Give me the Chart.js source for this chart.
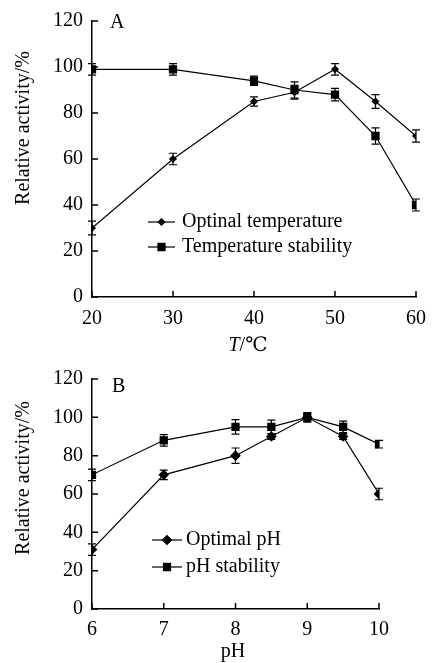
<!DOCTYPE html>
<html>
<head>
<meta charset="utf-8">
<script src="https://cdn.jsdelivr.net/npm/chart.js@4.4.0/dist/chart.umd.min.js"></script>
<style>
  body { margin: 0; background: #fff; }
  .panel { position: absolute; left: 0; width: 437px; }
  #panelA { top: 0; height: 358px; }
  #panelB { top: 358px; height: 305px; }
</style>
</head>
<body>
<div class="panel" id="panelA"><canvas id="chartA"></canvas></div>
<div class="panel" id="panelB"><canvas id="chartB"></canvas></div>
<script>
// panel A: temperature
const temperatures = [20, 30, 40, 45, 50, 55, 60];
const optimalTemp = [30, 60, 85, 89, 99, 85, 70];
const optimalTempErr = [3, 2.5, 2, 3, 2.5, 3, 2.7];
const tempStability = [99, 99, 94, 90, 88, 70, 40];
const tempStabilityErr = [2.5, 2.5, 2, 3.5, 2.7, 3.5, 2.6];

// panel B: pH
const pHValues = [6, 7, 8, 8.5, 9, 9.5, 10];
const optimalPH = [31, 70, 80, 90, 100, 90, 60];
const optimalPHErr = [3, 2.5, 4, 1.5, 2, 1.5, 3];
const pHStability = [70, 88, 95, 95, 100, 95, 86];
const pHStabilityErr = [3, 3, 3.8, 3.5, 2.5, 3, 2];

const FONT = "'Liberation Serif', 'DejaVu Serif', serif";
const FONT_SIZE = 20;

function toPoints(xs, ys) {
  return xs.map((x, i) => ({ x: x, y: ys[i] }));
}

// vertical error bars with caps
const errorBars = {
  id: "errorBars",
  afterDatasetsDraw(chart) {
    const ctx = chart.ctx;
    const xs = chart.scales.x;
    const ys = chart.scales.y;
    ctx.save();
    ctx.strokeStyle = "#000";
    ctx.lineWidth = 1.2;
    chart.data.datasets.forEach((ds) => {
      if (!ds.errors) return;
      ds.data.forEach((p, i) => {
        const e = ds.errors[i];
        const px = xs.getPixelForValue(p.x);
        const top = ys.getPixelForValue(p.y + e);
        const bot = ys.getPixelForValue(p.y - e);
        ctx.beginPath();
        ctx.moveTo(px, top);
        ctx.lineTo(px, bot);
        ctx.moveTo(px - 4, top);
        ctx.lineTo(px + 4, top);
        ctx.moveTo(px - 4, bot);
        ctx.lineTo(px + 4, bot);
        ctx.stroke();
      });
    });
    ctx.restore();
  },
};

// tick marks pointing into the plot
const innerTicks = {
  id: "innerTicks",
  afterDraw(chart) {
    const ctx = chart.ctx;
    const xs = chart.scales.x;
    const ys = chart.scales.y;
    const len = 6;
    ctx.save();
    ctx.strokeStyle = "#000";
    ctx.lineWidth = 1.5;
    ctx.beginPath();
    xs.ticks.forEach((t) => {
      const px = xs.getPixelForValue(t.value);
      ctx.moveTo(px, ys.bottom);
      ctx.lineTo(px, ys.bottom - len);
    });
    ys.ticks.forEach((t) => {
      const py = ys.getPixelForValue(t.value);
      ctx.moveTo(xs.left, py);
      ctx.lineTo(xs.left + len, py);
    });
    ctx.stroke();
    ctx.restore();
  },
};

// panel letter, axis titles and legend
const panelText = {
  id: "panelText",
  afterDraw(chart, args, opts) {
    const ctx = chart.ctx;
    ctx.save();
    ctx.fillStyle = "#000";
    ctx.textBaseline = "middle";

    ctx.font = FONT_SIZE + "px " + FONT;
    ctx.textAlign = "left";
    ctx.fillText(opts.letter, opts.letterX, opts.letterY);

    // y title
    ctx.save();
    ctx.translate(opts.yTitleX, opts.yTitleY);
    ctx.rotate(-Math.PI / 2);
    ctx.textAlign = "center";
    ctx.fillText(opts.yTitle, 0, 0);
    ctx.restore();

    // x title, parts may be italic
    let total = 0;
    opts.xTitle.forEach((part) => {
      ctx.font = (part.italic ? "italic " : "") + FONT_SIZE + "px " + FONT;
      total += ctx.measureText(part.text).width;
    });
    let cx = opts.xTitleX - total / 2;
    ctx.textAlign = "left";
    opts.xTitle.forEach((part) => {
      ctx.font = (part.italic ? "italic " : "") + FONT_SIZE + "px " + FONT;
      ctx.fillText(part.text, cx, opts.xTitleY);
      cx += ctx.measureText(part.text).width;
    });

    // legend
    const lg = opts.legend;
    ctx.font = FONT_SIZE + "px " + FONT;
    chart.data.datasets.forEach((ds, i) => {
      const y = lg.y[i];
      ctx.strokeStyle = "#000";
      ctx.lineWidth = 1.2;
      ctx.beginPath();
      ctx.moveTo(lg.x0, y);
      ctx.lineTo(lg.x1, y);
      ctx.stroke();
      ctx.fillStyle = "#000";
      Chart.helpers.drawPoint(ctx, {
        pointStyle: ds.pointStyle,
        radius: ds.pointRadius,
        rotation: 0,
        borderWidth: 1,
      }, (lg.x0 + lg.x1) / 2, y);
      ctx.fill();
      ctx.fillText(ds.label, lg.textX, y);
    });
    ctx.restore();
  },
};

function makeChart(id, cfg) {
  const ctx = document.getElementById(id).getContext("2d");
  return new Chart(ctx, {
    type: "line",
    data: {
      datasets: [
        {
          label: cfg.labels[0],
          data: toPoints(cfg.xs, cfg.series[0]),
          errors: cfg.errors[0],
          borderColor: "#000",
          backgroundColor: "#000",
          borderWidth: 1.2,
          pointStyle: "rectRot",
          pointRadius: cfg.diamondRadius,
          tension: 0,
        },
        {
          label: cfg.labels[1],
          data: toPoints(cfg.xs, cfg.series[1]),
          errors: cfg.errors[1],
          borderColor: "#000",
          backgroundColor: "#000",
          borderWidth: 1.2,
          pointStyle: "rect",
          pointRadius: 5,
          tension: 0,
        },
      ],
    },
    options: {
      responsive: true,
      maintainAspectRatio: false,
      animation: false,
      layout: { padding: cfg.padding },
      scales: {
        x: {
          type: "linear",
          min: cfg.xMin,
          max: cfg.xMax,
          ticks: {
            stepSize: cfg.xStep,
            color: "#000",
            padding: cfg.xPad,
            font: { family: FONT, size: FONT_SIZE },
          },
          grid: { display: false, drawTicks: false },
          border: { color: "#000", width: 1.5 },
          afterFit: (s) => { s.height = cfg.xHeight; },
        },
        y: {
          min: 0,
          max: 120,
          ticks: {
            stepSize: 20,
            color: "#000",
            padding: 9,
            font: { family: FONT, size: FONT_SIZE },
          },
          grid: { display: false, drawTicks: false },
          border: { color: "#000", width: 1.5 },
          afterFit: (s) => { s.width = 92; },
        },
      },
      plugins: {
        legend: { display: false },
        tooltip: { enabled: false },
        panelText: cfg.text,
      },
    },
    plugins: [errorBars, innerTicks, panelText],
  });
}

makeChart("chartA", {
  xs: temperatures,
  series: [optimalTemp, tempStability],
  errors: [optimalTempErr, tempStabilityErr],
  labels: ["Optinal temperature", "Temperature stability"],
  diamondRadius: 3.2,
  xMin: 20, xMax: 60, xStep: 10,
  xHeight: 61, xPad: 10,
  padding: { left: 0, right: 21, top: 14, bottom: 0 },
  text: {
    letter: "A", letterX: 110, letterY: 23,
    yTitle: "Relative activity/%", yTitleX: 24, yTitleY: 128,
    xTitle: [{ text: "T", italic: true }, { text: "/℃", italic: false }],
    xTitleX: 248, xTitleY: 346,
    legend: { x0: 148, x1: 175, textX: 182, y: [222, 247] },
  },
});

makeChart("chartB", {
  xs: pHValues,
  series: [optimalPH, pHStability],
  errors: [optimalPHErr, pHStabilityErr],
  labels: ["Optimal pH", "pH stability"],
  diamondRadius: 4.5,
  xMin: 6, xMax: 10, xStep: 1,
  xHeight: 54, xPad: 9,
  padding: { left: 0, right: 58, top: 16, bottom: 0 },
  text: {
    letter: "B", letterX: 112, letterY: 29,
    yTitle: "Relative activity/%", yTitleX: 24, yTitleY: 120,
    xTitle: [{ text: "pH", italic: false }],
    xTitleX: 233, xTitleY: 294,
    legend: { x0: 152, x1: 182, textX: 186, y: [182, 209] },
  },
});
</script>
</body>
</html>
